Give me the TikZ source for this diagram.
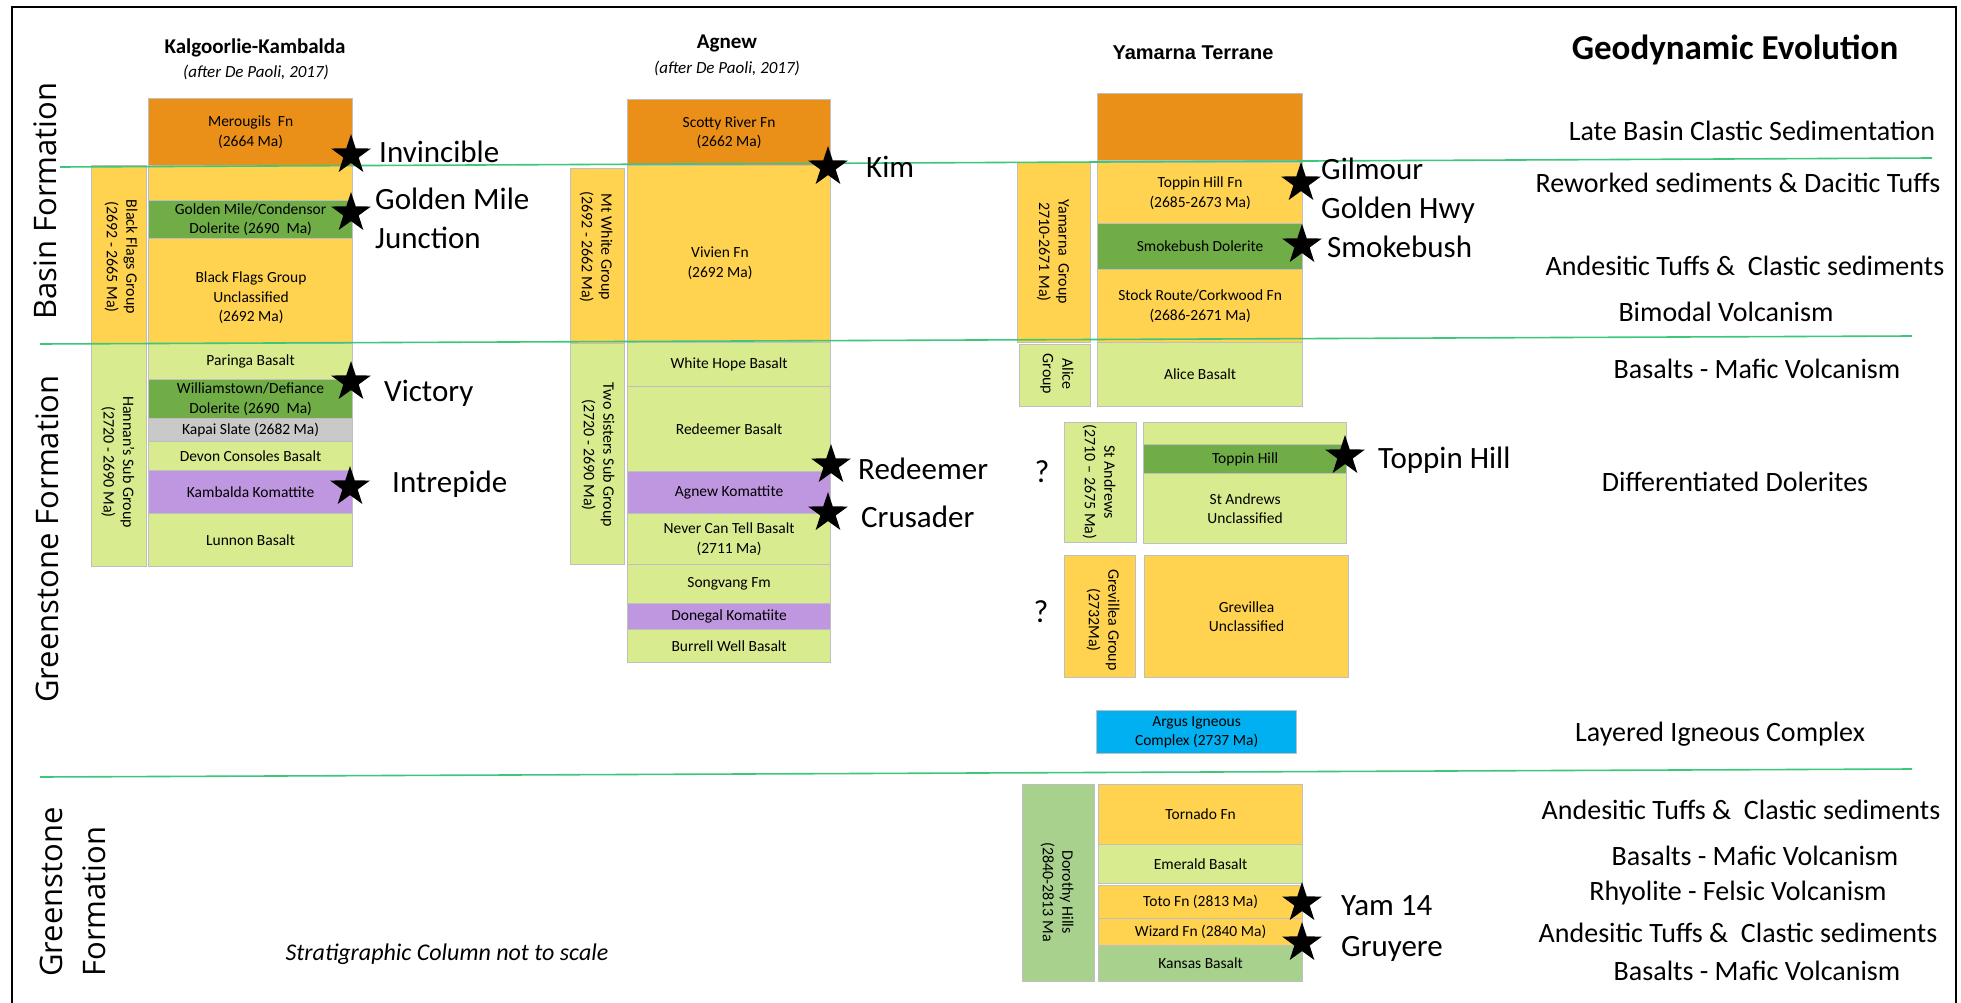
\documentclass[tikz,border=0pt]{standalone}
\usepackage{fontspec}
\setmainfont{Carlito}
\newfontfamily\arialfam{Liberation Sans}
\newfontfamily\opensansfam{Open Sans}
\usetikzlibrary{shapes.geometric}
\definecolor{orng}{HTML}{EA9018}
\definecolor{yel}{HTML}{FFD34F}
\definecolor{lgrn}{HTML}{D8EB8E}
\definecolor{dgrn}{HTML}{70AD47}
\definecolor{gry}{HTML}{C9C9C9}
\definecolor{purp}{HTML}{BF97E0}
\definecolor{blu}{HTML}{00B0F0}
\definecolor{sage}{HTML}{A9D18E}
\definecolor{sepline}{HTML}{3CC77A}
\definecolor{edgegrey}{HTML}{BFBFBF}
\newcommand\stratbox[7]{\node[stratum,fill=#2,minimum width={#5-#3},minimum height={#6-#4}] (#1) at (#3,#4) {#7};}
\begin{document}
\begin{tikzpicture}[x=1pt,y=-1pt,
  stratum/.style={draw=edgegrey,line width=1.2pt,anchor=north west,inner sep=0pt,align=center,font=\fontsize{15.5}{19.5}\selectfont},
  btext/.style={inner sep=0pt,align=center,font=\fontsize{15.5}{19.5}\selectfont},
  vlab/.style={rotate=-90,inner sep=0pt,align=center,font=\fontsize{16}{19.5}\selectfont},
  sitestar/.style={star,star points=5,star point ratio=2.6,fill=black,draw=none,minimum size=42pt,inner sep=0pt},
  sitelab/.style={anchor=west,inner sep=0pt,align=left,font=\fontsize{31}{39}\selectfont},
  evol/.style={inner sep=0pt,font=\fontsize{28}{34}\selectfont},
  biglab/.style={rotate=90,inner sep=0pt,font=\opensansfam\fontsize{31}{43}\selectfont},
  sep/.style={draw=sepline,line width=1.6pt},
  frame/.style={draw=black,line width=1.6pt}
]
\useasboundingbox (0,0) rectangle (1961,1003);

% frame
\coordinate (fbl) at (12,1003);
\coordinate (ftl) at (12,7);
\coordinate (ftr) at (1956,7);
\coordinate (fbr) at (1956,1003);
\draw[frame] (fbl) -- (ftl) -- (ftr) -- (fbr);

% titles
\node[font=\bfseries\fontsize{21}{24}\selectfont,inner sep=0pt] (tkal) at (255,48) {Kalgoorlie-Kambalda};
\node[font=\itshape\fontsize{17}{20}\selectfont,inner sep=0pt] (tkal2) at (256,72) {(after De Paoli, 2017)};
\node[font=\bfseries\fontsize{21}{24}\selectfont,inner sep=0pt] (tagn) at (727,43) {Agnew};
\node[font=\itshape\fontsize{17}{20}\selectfont,inner sep=0pt] (tagn2) at (727,68) {(after De Paoli, 2017)};
\node[font=\arialfam\bfseries\fontsize{20}{24}\selectfont,inner sep=0pt] (tyam) at (1193,53) {Yamarna Terrane};
\node[font=\bfseries\fontsize{35}{40}\selectfont,inner sep=0pt] (tgeo) at (1735,50) {Geodynamic Evolution};

% big rotated labels
\node[biglab] (lbasin) at (45,201) {Basin Formation};
\node[biglab] (lgreen1) at (47,539) {Greenstone Formation};
\node[biglab,align=left] (lgreen2) at (73,892) {Greenstone\\Formation};

% Kalgoorlie-Kambalda column
\stratbox{kmer}{orng}{148}{98}{352}{165}{Merougils~ Fn\\(2664 Ma)}
\stratbox{ktop}{yel}{148}{165}{352}{200}{}
\stratbox{kgm}{dgrn}{148}{200}{352}{238}{Golden Mile/Condensor\\Dolerite (2690~ Ma)}
\stratbox{kbf}{yel}{148}{238}{352}{343}{}
\node[btext] (kbft) at (251,298) {Black Flags Group\\Unclassified\\(2692 Ma)};
\stratbox{kpar}{lgrn}{148}{343}{352}{379}{Paringa Basalt}
\stratbox{kwil}{dgrn}{148}{379}{352}{418}{Williamstown/Defiance\\Dolerite (2690~ Ma)}
\stratbox{kkap}{gry}{148}{418}{352}{441}{Kapai Slate (2682 Ma)}
\stratbox{kdev}{lgrn}{148}{441}{352}{470}{Devon Consoles Basalt}
\stratbox{kkom}{purp}{148}{470}{352}{513}{Kambalda Komattite}
\stratbox{klun}{lgrn}{148}{513}{352}{566}{Lunnon Basalt}
\stratbox{gbf}{yel}{91}{165}{146}{343}{}
\node[vlab] (gbft) at (121,257) {Black Flags Group\\(2692 - 2665 Ma)};
\stratbox{ghan}{lgrn}{91}{343}{146}{566}{}
\node[vlab] (ghant) at (118,462) {Hannan’s Sub Group\\(2720 - 2690 Ma)};

% Agnew column
\stratbox{ascot}{orng}{627}{99}{830}{165}{Scotty River Fn\\(2662 Ma)}
\stratbox{aviv}{yel}{627}{165}{830}{342}{}
\node[btext] (avivt) at (720,263) {Vivien Fn\\(2692 Ma)};
\stratbox{awh}{lgrn}{627}{342}{830}{386}{White Hope Basalt}
\stratbox{ared}{lgrn}{627}{386}{830}{471}{Redeemer Basalt}
\stratbox{akom}{purp}{627}{471}{830}{513}{Agnew Komattite}
\stratbox{anct}{lgrn}{627}{513}{830}{564}{Never Can Tell Basalt\\(2711 Ma)}
\stratbox{asong}{lgrn}{627}{564}{830}{603}{Songvang Fm}
\stratbox{adon}{purp}{627}{603}{830}{629}{Donegal Komatiite}
\stratbox{abur}{lgrn}{627}{629}{830}{662}{Burrell Well Basalt}
\stratbox{gmw}{yel}{570}{168}{624}{343}{}
\node[vlab] (gmwt) at (596,247) {Mt White Group\\(2692 - 2662 Ma)};
\stratbox{gts}{lgrn}{570}{343}{624}{564}{}
\node[vlab] (gtst) at (598,455) {Two Sisters Sub Group\\(2720 - 2690 Ma)};

% Yamarna column
\stratbox{yor}{orng}{1097}{93}{1302}{160}{}
\stratbox{ytop}{yel}{1097}{162}{1302}{223}{Toppin Hill Fn\\(2685-2673 Ma)}
\stratbox{ysmk}{dgrn}{1097}{223}{1302}{269}{Smokebush Dolerite}
\stratbox{ystk}{yel}{1097}{269}{1302}{342}{Stock Route/Corkwood Fn\\(2686-2671 Ma)}
\stratbox{yali}{lgrn}{1097}{342}{1302}{406}{Alice Basalt}
\stratbox{gyam}{yel}{1017}{162}{1090}{342}{}
\node[vlab] (gyamt) at (1053,252) {Yamarna~ Group\\2710-2671 Ma)};
\stratbox{gali}{lgrn}{1019}{344}{1090}{406}{}
\node[vlab] (galit) at (1057,374) {Alice\\Group};
\stratbox{gsa}{lgrn}{1064}{422}{1136}{542}{}
\node[vlab] (gsat) at (1099,482) {St Andrews\\(2710 -- 2675 Ma)};
\stratbox{ysa1}{lgrn}{1143}{422}{1346}{444}{}
\stratbox{ysath}{dgrn}{1143}{444}{1346}{473}{Toppin Hill}
\stratbox{ysa2}{lgrn}{1143}{473}{1346}{543}{St Andrews\\Unclassified}
\stratbox{ggr}{yel}{1064}{555}{1135}{677}{}
\node[vlab] (ggrt) at (1103,620) {Grevillea Group\\(2732Ma)};
\stratbox{ygr}{yel}{1144}{555}{1348}{677}{Grevillea\\Unclassified}
\stratbox{yarg}{blu}{1096}{710}{1296}{753}{Argus Igneous\\Complex (2737 Ma)}
\stratbox{gdor}{sage}{1022}{784}{1094}{981}{}
\node[vlab] (gdort) at (1057,892) {Dorothy Hills\\(2840-2813 Ma};
\stratbox{ytor}{yel}{1098}{784}{1302}{844}{Tornado Fn}
\stratbox{yeme}{lgrn}{1098}{844}{1302}{883}{Emerald Basalt}
\stratbox{ytoto}{yel}{1098}{885}{1302}{918}{Toto Fn (2813 Ma)}
\stratbox{ywiz}{yel}{1098}{918}{1302}{945}{Wizard Fn (2840 Ma)}
\stratbox{ykan}{sage}{1098}{945}{1302}{981}{Kansas Basalt}

% separator lines
\coordinate (l1a) at (60,167); \coordinate (l1b) at (1932,158);
\coordinate (l2a) at (40,344); \coordinate (l2b) at (1912,336);
\coordinate (l3a) at (40,777); \coordinate (l3b) at (1912,769);
\draw[sep] (l1a) -- (l1b);
\draw[sep] (l2a) -- (l2b);
\draw[sep] (l3a) -- (l3b);

% question marks
\node[font=\fontsize{32}{36}\selectfont,inner sep=0pt] (q1) at (1042,472) {?};
\node[font=\fontsize{32}{36}\selectfont,inner sep=0pt] (q2) at (1041,612) {?};

% stars and site labels
\node[sitestar] (sinv) at (351,155) {};
\node[sitestar] (sgm) at (351,213) {};
\node[sitestar] (svic) at (351,382) {};
\node[sitestar] (sint) at (350,487) {};
\node[sitestar] (skim) at (828,167) {};
\node[sitestar] (sred) at (831,465) {};
\node[sitestar] (scru) at (828,513) {};
\node[sitestar] (sgil) at (1301,183) {};
\node[sitestar] (ssmk) at (1302,245) {};
\node[sitestar] (stop) at (1345,456) {};
\node[sitestar] (syam) at (1302,903) {};
\node[sitestar] (sgru) at (1302,943) {};

\node[sitelab] (ninv) at (379,152) {Invincible};
\node[sitelab] (ngm) at (375,218) {Golden Mile\\Junction};
\node[sitelab] (nvic) at (384,393) {Victory};
\node[sitelab] (nint) at (392,484) {Intrepide};
\node[sitelab] (nkim) at (866,167) {Kim};
\node[sitelab] (nred) at (858,469) {Redeemer};
\node[sitelab] (ncru) at (861,517) {Crusader};
\node[sitelab] (ngil) at (1321,191) {Gilmour\\Golden Hwy};
\node[sitelab] (nsmk) at (1327,247) {Smokebush};
\node[sitelab] (ntop) at (1378,460) {Toppin Hill};
\node[sitelab] (nyam) at (1341,906) {Yam 14};
\node[sitelab] (ngru) at (1341,949) {Gruyere};

% geodynamic evolution column
\node[evol] (e1) at (1752,131) {Late Basin Clastic Sedimentation};
\node[evol] (e2) at (1738,183) {Reworked sediments \& Dacitic Tuffs};
\node[evol] (e3) at (1745,266) {Andesitic Tuffs \&~ Clastic sediments};
\node[evol] (e4) at (1726,312) {Bimodal Volcanism};
\node[evol] (e5) at (1757,369) {Basalts - Mafic Volcanism};
\node[evol] (e6) at (1735,482) {Differentiated Dolerites};
\node[evol] (e7) at (1720,734) {Layered Igneous Complex};
\node[evol] (e8) at (1741,810) {Andesitic Tuffs \&~ Clastic sediments};
\node[evol] (e9) at (1755,856) {Basalts - Mafic Volcanism};
\node[evol] (e10) at (1738,893) {Rhyolite - Felsic Volcanism};
\node[evol] (e11) at (1738,933) {Andesitic Tuffs \&~ Clastic sediments};
\node[evol] (e12) at (1757,971) {Basalts - Mafic Volcanism};

\node[font=\itshape\fontsize{24}{28}\selectfont,inner sep=0pt] (note) at (447,954) {Stratigraphic Column not to scale};
\end{tikzpicture}
\end{document}
